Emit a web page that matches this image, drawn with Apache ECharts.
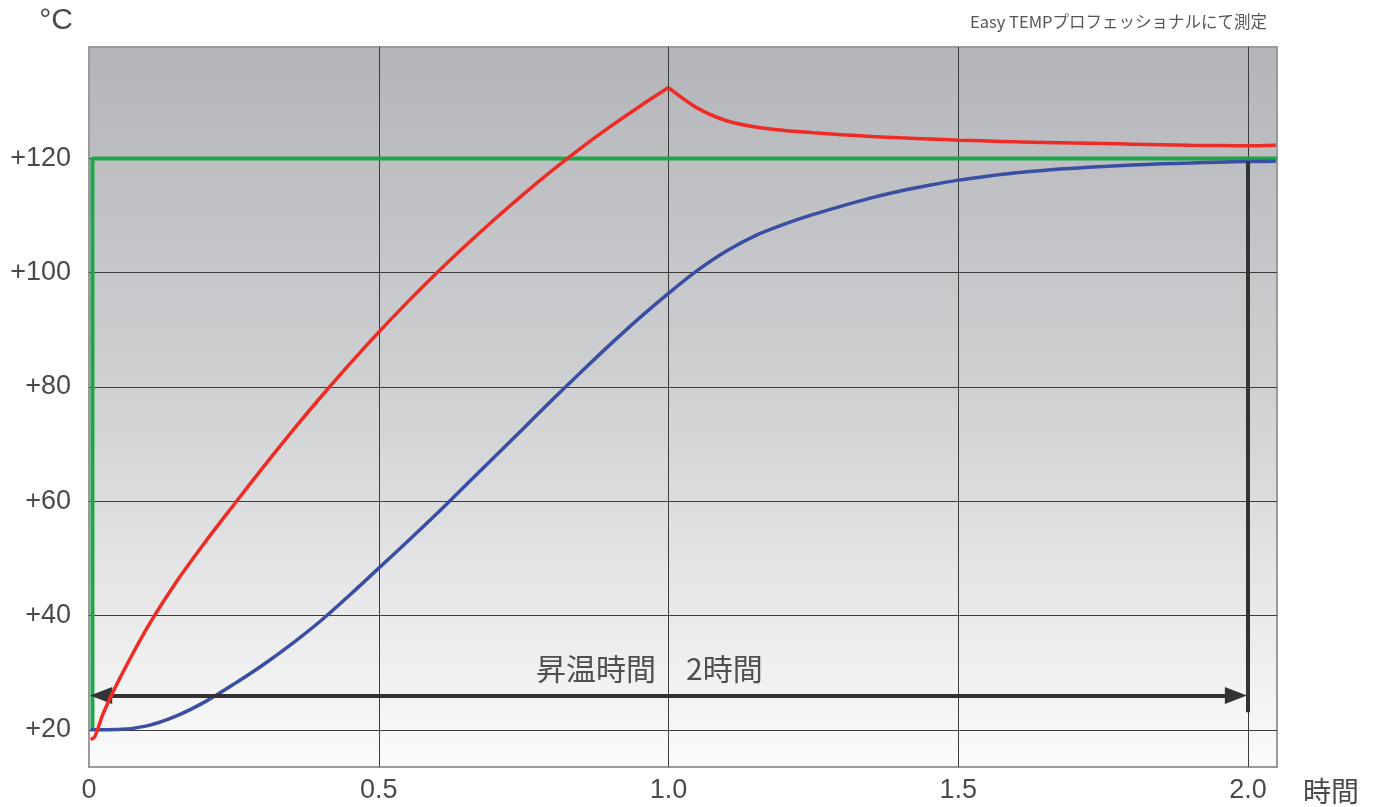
<!DOCTYPE html>
<html>
<head>
<meta charset="utf-8">
<script src="https://cdn.jsdelivr.net/npm/echarts@6/dist/echarts.min.js"></script>
<style>
html,body{margin:0;padding:0;background:#fff;}
#chart{width:1379px;height:807px;}
</style>
</head>
<body>
<div id="chart"></div>
<script>
// ---- data ----
const xTicks = [0, 0.5, 1.0, 1.5, 2.0];
const yTicks = [20, 40, 60, 80, 100, 120];
const xRange = [0, 2.05];
const yRange = [13.5, 139.5];

// measured (red) temperature, [hours, °C] — heating phase up to the peak
const redRise = [
  [0.003,18.3],[0.01,18.8],[0.025,23.0],[0.05,28.4],[0.1,37.8],[0.15,45.8],[0.2,52.8],
  [0.25,59.4],[0.3,65.9],[0.35,72.2],[0.4,78.25],[0.45,84.05],[0.5,89.6],[0.55,94.9],
  [0.6,99.95],[0.65,104.75],[0.7,109.35],[0.75,113.75],[0.8,117.95],[0.85,121.9],[0.9,125.6],
  [0.95,129.1],[1.0,132.4]
];
// measured (red) temperature after the peak
const redFall = [
  [1.0,132.4],[1.05,128.8],[1.1,126.6],[1.15,125.5],[1.2,124.9],[1.25,124.5],
  [1.3,124.15],[1.35,123.85],[1.4,123.6],[1.45,123.4],[1.5,123.2],[1.55,123.05],[1.6,122.9],
  [1.65,122.8],[1.7,122.7],[1.75,122.6],[1.8,122.5],[1.85,122.4],[1.9,122.3],[1.95,122.25],
  [2.0,122.2],[2.048,122.3]
];
// material (blue) temperature
const blueCurve = [
  [0.003,20],[0.05,20.05],[0.1,20.7],[0.15,22.4],[0.2,24.9],[0.25,28.0],[0.3,31.35],
  [0.35,35.05],[0.4,39.1],[0.45,43.6],[0.5,48.3],[0.55,53.0],[0.6,57.8],[0.65,62.8],
  [0.7,67.8],[0.75,72.8],[0.8,77.8],[0.85,82.7],[0.9,87.5],[0.95,92.1],[1.0,96.4],
  [1.05,100.4],[1.1,103.8],[1.15,106.5],[1.2,108.5],[1.25,110.2],[1.3,111.7],[1.35,113.1],
  [1.4,114.3],[1.45,115.3],[1.5,116.2],[1.55,116.9],[1.6,117.5],[1.65,117.95],[1.7,118.3],
  [1.75,118.6],[1.8,118.85],[1.85,119.05],[1.9,119.2],[1.95,119.35],[2.0,119.45],[2.048,119.5]
];
// setpoint (green)
const greenSetpoint = [[0.006,20],[0.006,120],[2.05,120]];

// annotation values
const arrowY = 26;
const arrowFrom = 0.021;
const arrowTo = 1.979;
const markerX = 2.0;
const markerTop = 119.5;
const markerBottom = 23.1;
const annotationText = '昇温時間\u30002時間';
const annotationPos = [0.967, 30.8];

const titleText = 'Easy TEMPプロフェッショナルにて測定';
const xName = '時間';
const yName = '°C';

const chart = echarts.init(document.getElementById('chart'));
const labelFont = "'Liberation Sans', Arial, sans-serif";
const cjkFont = "'Noto Sans CJK JP', 'Noto Sans', sans-serif";
const redStyle = {color: '#ee2b25', width: 3.5};

chart.setOption({
  animation: false,
  backgroundColor: '#ffffff',
  title: {
    text: titleText,
    right: 107,
    top: 8,
    textStyle: {fontSize: 16.5, fontWeight: 'normal', color: '#555', fontFamily: cjkFont}
  },
  grid: {
    left: 89, right: 102, top: 47, bottom: 40,
    show: true,
    borderColor: '#9a9a9a',
    borderWidth: 2,
    backgroundColor: {
      type: 'linear', x: 0, y: 0, x2: 0, y2: 1,
      colorStops: [
        {offset: 0, color: '#b3b5ba'},
        {offset: 0.5, color: '#d1d2d4'},
        {offset: 1, color: '#fbfbfb'}
      ]
    }
  },
  xAxis: {
    type: 'value',
    min: xRange[0], max: xRange[1],
    name: xName,
    nameLocation: 'end',
    nameGap: 26,
    nameTextStyle: {fontSize: 28, color: '#4a4a4a', fontFamily: cjkFont, align: 'left', verticalAlign: 'top', padding: [10, 0, 0, 0]},
    axisLine: {show: false},
    axisTick: {show: false, customValues: xTicks.slice(1)},
    axisLabel: {
      customValues: xTicks,
      formatter: v => v === 0 ? '0' : v.toFixed(1),
      fontSize: 27, color: '#4a4a4a', fontFamily: labelFont, margin: 10
    },
    splitLine: {show: true, lineStyle: {color: '#3c3c3c', width: 1}}
  },
  yAxis: {
    type: 'value',
    min: yRange[0], max: yRange[1],
    name: yName,
    nameLocation: 'end',
    nameGap: 11,
    nameTextStyle: {fontSize: 30, color: '#4a4a4a', fontFamily: labelFont, align: 'right', verticalAlign: 'bottom', padding: [0, 16, 0, 0]},
    axisLine: {show: false},
    axisTick: {show: false, customValues: yTicks},
    axisLabel: {
      customValues: yTicks,
      formatter: v => '+' + v,
      fontSize: 27, color: '#4a4a4a', fontFamily: labelFont, margin: 18
    },
    splitLine: {show: true, lineStyle: {color: '#3c3c3c', width: 1}}
  },
  series: [
    {
      name: 'setpoint', type: 'line', data: greenSetpoint,
      symbol: 'none', lineStyle: {color: '#1ea64b', width: 4}, z: 3
    },
    {
      name: 'blue', type: 'line', data: blueCurve,
      symbol: 'none', smooth: 0.3,
      lineStyle: {color: '#3a4ea2', width: 3.5}, z: 4
    },
    {
      name: 'red', type: 'line', data: redRise,
      symbol: 'none', smooth: 0.3,
      lineStyle: redStyle, z: 5
    },
    {
      name: 'red', type: 'line', data: redFall,
      symbol: 'none', smooth: 0.3,
      lineStyle: redStyle, z: 5
    },
    {
      name: 'annotation', type: 'line', data: [], z: 6,
      markLine: {
        silent: true,
        animation: false,
        label: {show: false},
        data: [
          [
            {coord: [arrowFrom, arrowY], symbol: 'triangle', symbolSize: [17, 22]},
            {coord: [arrowTo, arrowY], symbol: 'triangle', symbolSize: [17, 22]}
          ],
          [
            {coord: [markerX, markerTop], symbol: 'none'},
            {coord: [markerX, markerBottom], symbol: 'none'}
          ]
        ],
        lineStyle: {color: '#333333', width: 4, type: 'solid'}
      },
      markPoint: {
        silent: true,
        symbol: 'circle',
        symbolSize: 0,
        data: [{coord: annotationPos}],
        label: {
          show: true, position: 'inside',
          formatter: annotationText,
          fontSize: 30, color: '#4f4f4f', fontFamily: cjkFont
        }
      }
    }
  ]
});
</script>
</body>
</html>
